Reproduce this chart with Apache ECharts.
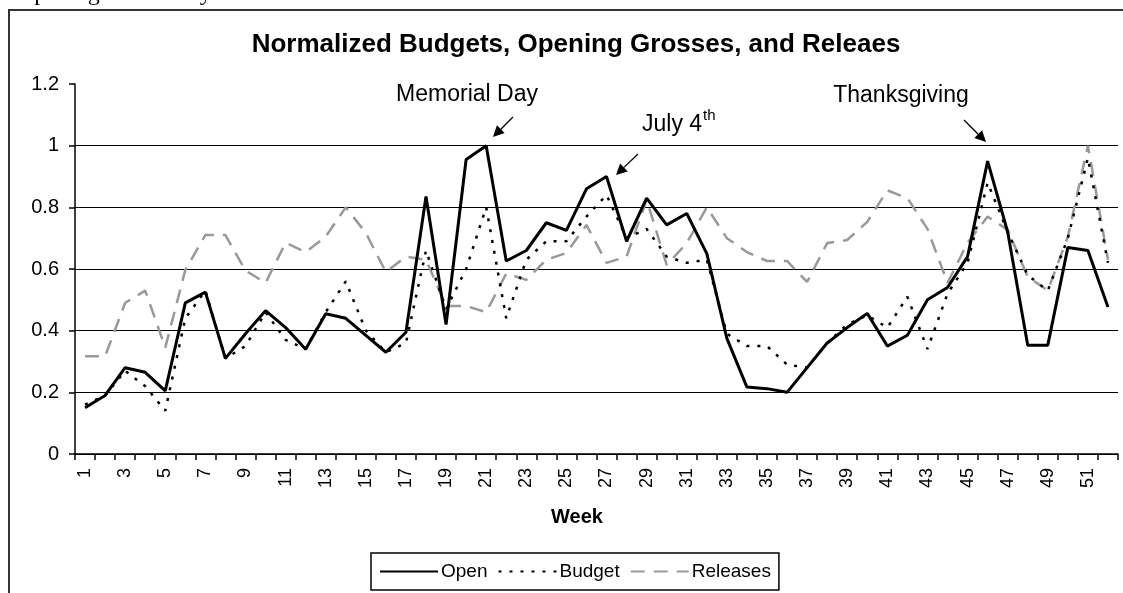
<!DOCTYPE html>
<html>
<head>
<meta charset="utf-8">
<script src="https://cdn.jsdelivr.net/npm/echarts@6/dist/echarts.min.js"></script>
<style>
  html, body { margin: 0; padding: 0; background: #fff; }
  #main { width: 1123px; height: 593px; }
</style>
</head>
<body>
<div id="main"></div>
<script>
var weeks = ['1','2','3','4','5','6','7','8','9','10','11','12','13','14','15','16','17','18','19','20',
  '21','22','23','24','25','26','27','28','29','30','31','32','33','34','35','36','37','38','39','40',
  '41','42','43','44','45','46','47','48','49','50','51','52'];

var openData = [0.15,0.19,0.28,0.265,0.205,0.49,0.525,0.31,0.39,0.465,0.41,0.34,0.455,0.44,0.385,0.33,0.395,0.835,0.42,0.955,
  1.0,0.626,0.66,0.75,0.725,0.86,0.90,0.69,0.83,0.743,0.78,0.65,0.375,0.217,0.212,0.20,0.28,0.36,0.41,0.456,
  0.35,0.385,0.50,0.54,0.64,0.95,0.72,0.353,0.353,0.67,0.66,0.477];

var budgetData = [0.16,0.19,0.27,0.22,0.14,0.44,0.53,0.31,0.35,0.46,0.37,0.34,0.46,0.56,0.40,0.33,0.36,0.66,0.47,0.6,
  0.8,0.44,0.63,0.69,0.69,0.77,0.84,0.7,0.73,0.64,0.62,0.63,0.39,0.35,0.35,0.29,0.28,0.36,0.42,0.45,
  0.41,0.51,0.34,0.52,0.62,0.88,0.72,0.58,0.53,0.7,0.96,0.62];

var releasesData = [0.317,0.317,0.49,0.53,0.345,0.597,0.71,0.71,0.595,0.555,0.685,0.655,0.705,0.80,0.717,0.59,0.64,0.63,0.48,0.48,
  0.46,0.585,0.565,0.63,0.652,0.743,0.62,0.64,0.825,0.613,0.684,0.80,0.70,0.655,0.626,0.626,0.558,0.684,0.694,0.753,
  0.855,0.83,0.73,0.555,0.685,0.77,0.727,0.575,0.53,0.705,1.0,0.63];

var FONT = '"Liberation Sans", Arial, sans-serif';

// arrow = line + filled head
function arrow(x1, y1, x2, y2) {
  var dx = x2 - x1, dy = y2 - y1;
  var len = Math.sqrt(dx * dx + dy * dy);
  var ux = dx / len, uy = dy / len;
  var hl = 11, hw = 5.5;
  var bx = x2 - ux * hl, by = y2 - uy * hl;
  return [
    { type: 'line', shape: { x1: x1, y1: y1, x2: bx, y2: by }, style: { stroke: '#000', lineWidth: 1.3 } },
    { type: 'polygon', shape: { points: [[x2, y2], [bx - uy * hw, by + ux * hw], [bx + uy * hw, by - ux * hw]] },
      style: { fill: '#000' } }
  ];
}

function label(text, x, y, size, bold) {
  return { type: 'text', x: x, y: y, style: { text: text, font: (bold ? 'bold ' : '') + size + 'px ' + FONT,
    fill: '#000', textAlign: 'center', textVerticalAlign: 'middle' } };
}

var chart = echarts.init(document.getElementById('main'));

var graphics = [
  { type: 'rect', shape: { x: 9, y: 10, width: 1300, height: 800 }, style: { fill: 'none', stroke: '#333', lineWidth: 2 } },
  { type: 'text', x: 17, y: 6, style: { text: 'Opening Grosses by Week', font: '24px "Liberation Serif", serif', fill: '#000',
    textAlign: 'left', textVerticalAlign: 'bottom' } },
  label('Normalized Budgets, Opening Grosses, and Releaes', 576, 45, 26, true),
  label('Memorial Day', 467, 95, 23, false),
  label('Thanksgiving', 901, 96, 23, false),
  { type: 'text', x: 642, y: 125, style: { text: 'July 4', font: '23px ' + FONT, fill: '#000', textAlign: 'left', textVerticalAlign: 'middle' } },
  { type: 'text', x: 703, y: 116, style: { text: 'th', font: '15px ' + FONT, fill: '#000', textAlign: 'left', textVerticalAlign: 'middle' } },
  label('Week', 577, 517, 20, true)
].concat(arrow(513, 117, 493, 137), arrow(638, 154, 616, 175), arrow(964, 120, 986, 142));

chart.setOption({
  animation: false,
  backgroundColor: '#fff',
  grid: { left: 75, right: 5, top: 84, bottom: 139 },
  legend: {
    left: 371, top: 553,
    padding: [9, 8],
    itemGap: 10,
    itemWidth: 58, itemHeight: 14,
    borderColor: '#000', borderWidth: 1.5,
    itemStyle: { opacity: 0 },
    textStyle: { fontFamily: FONT, fontSize: 19, color: '#000', padding: [0, 0, 0, -2] },
    data: ['Open', 'Budget', 'Releases']
  },
  xAxis: {
    type: 'category',
    data: weeks,
    boundaryGap: true,
    axisLine: { lineStyle: { color: '#000', width: 1.5 } },
    axisTick: { show: true, interval: 0, length: 6, lineStyle: { color: '#000', width: 1.5 } },
    axisLabel: { interval: 1, rotate: 90, margin: 14, fontFamily: FONT, fontSize: 18, color: '#000' },
    splitLine: { show: false }
  },
  yAxis: {
    type: 'value',
    min: 0, max: 1.2, interval: 0.2,
    axisLine: { show: true, lineStyle: { color: '#000', width: 1.5 } },
    axisTick: { show: true, length: 6, lineStyle: { color: '#000', width: 1.5 } },
    axisLabel: { margin: 16, fontFamily: FONT, fontSize: 20, color: '#000' },
    splitLine: { show: true, lineStyle: { color: ['#000', '#000', '#000', '#000', '#000', '#000', 'rgba(0,0,0,0)'], width: 1.2 } }
  },
  series: [
    { name: 'Open', type: 'line', data: openData, symbol: 'none', z: 5,
      lineStyle: { color: '#000', width: 3 }, itemStyle: { color: '#000' } },
    { name: 'Budget', type: 'line', data: budgetData, symbol: 'none', z: 4,
      lineStyle: { color: '#000', width: 2.5, type: [3, 8] }, itemStyle: { color: '#000' } },
    { name: 'Releases', type: 'line', data: releasesData, symbol: 'none', z: 3,
      lineStyle: { color: '#999', width: 2.5, type: [14, 9] }, itemStyle: { color: '#999' } }
  ],
  graphic: graphics
});
</script>
</body>
</html>
